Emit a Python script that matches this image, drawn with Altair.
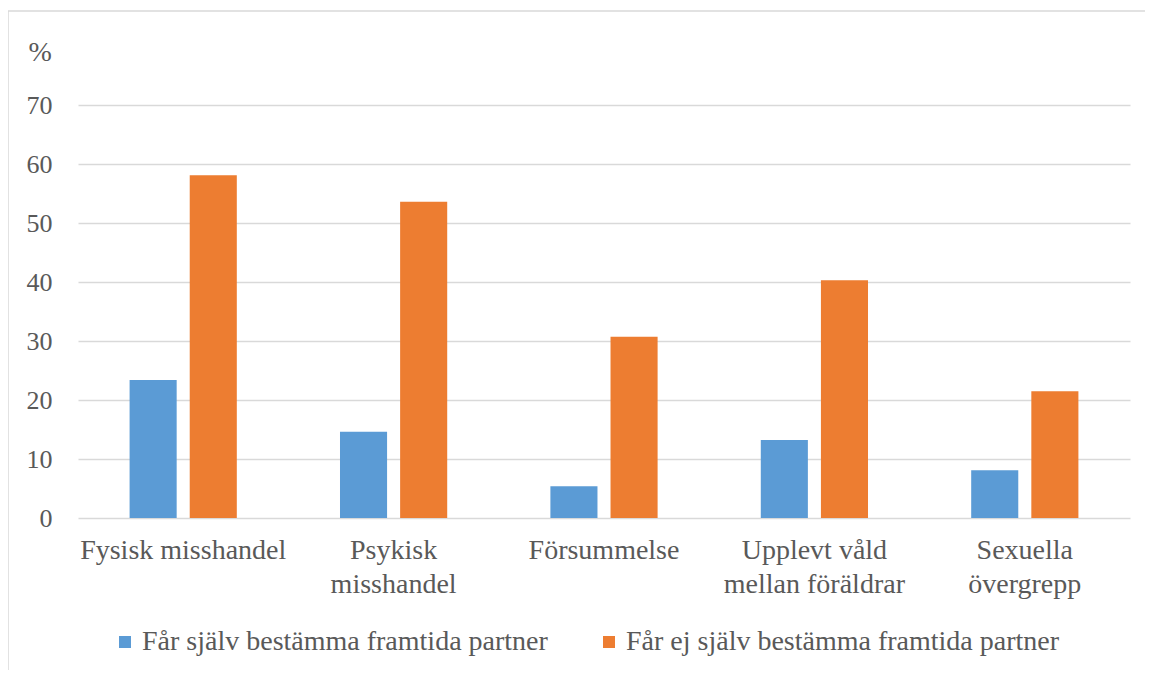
import altair as alt
import pandas as pd

categories = ["Fysisk misshandel", "Psykisk misshandel", "Försummelse",
              "Upplevt våld mellan föräldrar", "Sexuella övergrepp"]
label_lines = [["Fysisk misshandel"], ["Psykisk", "misshandel"], ["Försummelse"],
               ["Upplevt våld", "mellan föräldrar"], ["Sexuella", "övergrepp"]]
series_names = ["Får själv bestämma framtida partner",
                "Får ej själv bestämma framtida partner"]
values_self = [23.4, 14.6, 5.4, 13.2, 8.1]
values_not = [58.1, 53.6, 30.7, 40.3, 21.5]
y_ticks = [0, 10, 20, 30, 40, 50, 60, 70]
colors = ["#5B9BD5", "#ED7D31"]

rows = []
for c, a, b in zip(categories, values_self, values_not):
    rows.append({"kategori": c, "serie": series_names[0], "värde": a})
    rows.append({"kategori": c, "serie": series_names[1], "värde": b})
df = pd.DataFrame(rows)

# multi-line x labels
expr = "datum.label"
for c, lines in reversed(list(zip(categories, label_lines))):
    arr = "[" + ",".join("'" + l + "'" for l in lines) + "]"
    expr = f"datum.label == '{c}' ? {arr} : ({expr})"

FONT = "Liberation Serif"
TXT = "#595959"
GRID = "#d9d9d9"

bars = alt.Chart(df).mark_bar(stroke=None).encode(
    x=alt.X("kategori:N", sort=categories,
            scale=alt.Scale(paddingInner=0, paddingOuter=0),
            axis=alt.Axis(title=None, labelAngle=0, labelExpr=expr,
                          labelFontSize=28, labelColor=TXT, labelPadding=18,
                          labelLineHeight=34, labelBaseline="top", ticks=False,
                          domain=False, grid=False, labelLimit=300)),
    xOffset=alt.XOffset("serie:N", sort=series_names,
                        scale=alt.Scale(paddingInner=0.217, paddingOuter=0.858)),
    y=alt.Y("värde:Q", scale=alt.Scale(domain=[0, 70], nice=False),
            axis=alt.Axis(title="%", titleAngle=0, titleX=-50, titleY=-45,
                          titleAlign="left", titleBaseline="alphabetic",
                          titleFontSize=28, titleFontWeight="normal",
                          titleColor=TXT, values=y_ticks,
                          labelFontSize=26, labelColor=TXT, labelPadding=26,
                          ticks=False, domain=False, gridColor=GRID, gridWidth=1.5)),
    color=alt.Color("serie:N", sort=series_names,
                    scale=alt.Scale(domain=series_names, range=colors),
                    legend=alt.Legend(title=None, orient="none", direction="horizontal",
                                      legendX=33, legendY=523, symbolType="square",
                                      symbolSize=144, symbolStrokeWidth=0,
                                      labelFontSize=28,
                                      labelColor=TXT, labelOffset=3,
                                      columnPadding=47, labelLimit=600)),
)

frame_df = pd.DataFrame({"k": [0]})
top_line = alt.Chart(frame_df).mark_rule(color=GRID, strokeWidth=1.5).encode(
    x=alt.value(-70), x2=alt.value(1200), y=alt.value(-94))
left_line = alt.Chart(frame_df).mark_rule(color=GRID, strokeWidth=1.5).encode(
    x=alt.value(-70), y=alt.value(-94), y2=alt.value(700))

chart = alt.layer(top_line, left_line, bars).properties(
    width=1052, height=413,
    autosize=alt.AutoSizeParams(type="none"),
    padding={"left": 70, "top": 97, "right": 15, "bottom": 152},
).configure(font=FONT).configure_axis(labelFont=FONT, titleFont=FONT
).configure_legend(labelFont=FONT).configure_view(stroke=None)

chart.save("out.html", embed_options={"renderer": "svg", "actions": False})
